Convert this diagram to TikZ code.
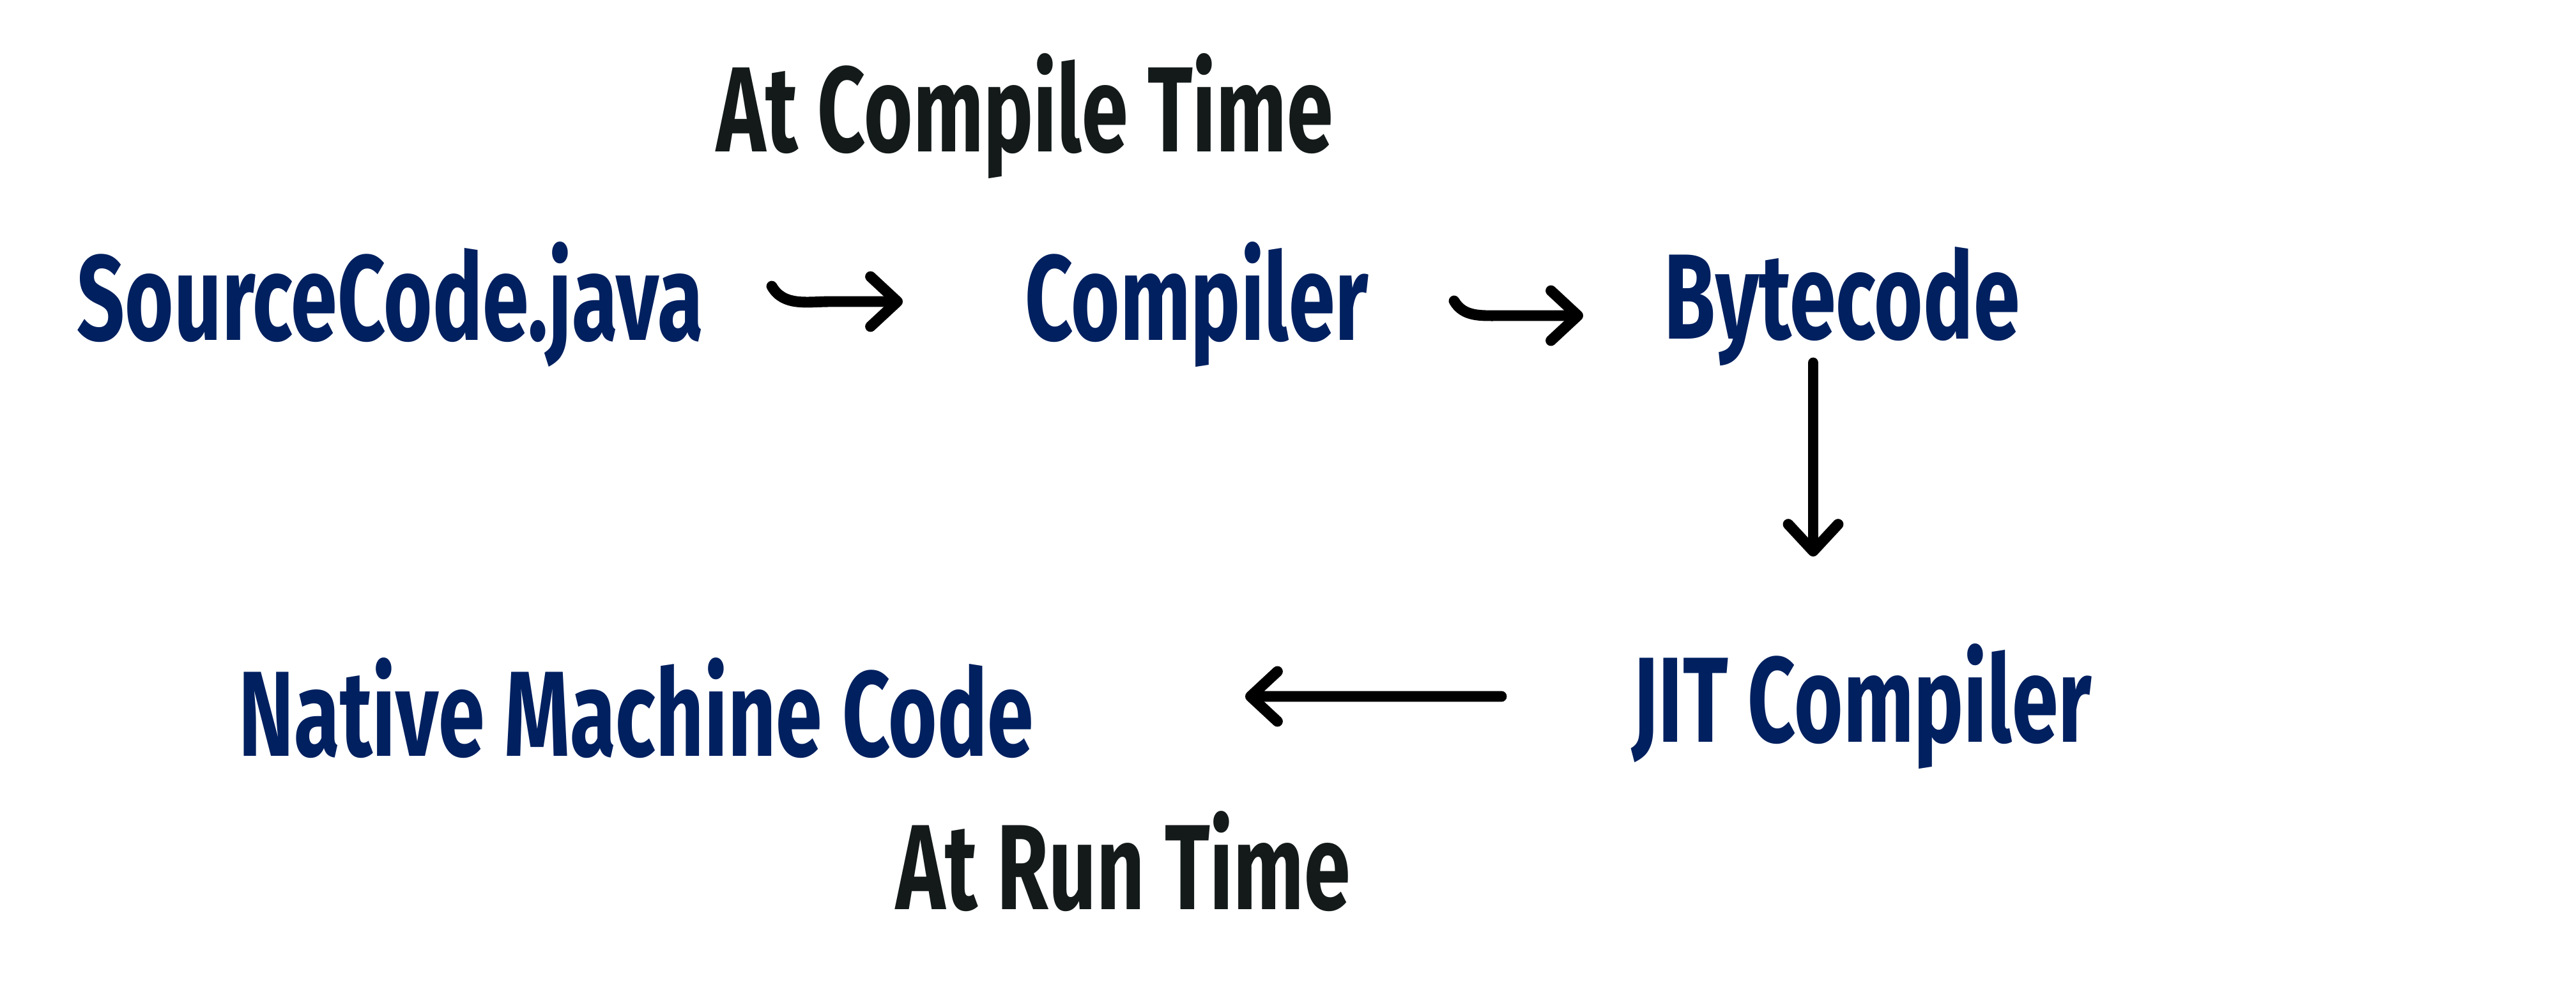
\documentclass[tikz,border=0pt]{standalone}
\usepackage{fontspec}
\usepackage{xcolor}
\usetikzlibrary{arrows.meta,positioning,calc}
\newfontfamily\diafont[FakeStretch=0.69,UprightFont=* Bold]{Fira Sans}
\definecolor{navy}{RGB}{0,32,96}
\definecolor{ink}{RGB}{20,26,26}

\begin{document}
\begin{tikzpicture}[
    lbl/.style={inner sep=0pt, anchor=base, font=\diafont\fontsize{54}{60}\selectfont, text=#1},
    lbl/.default=navy,
    arr/.style={line width=4.8pt, line cap=round, black,
        -{Straight Barb[length=0.42cm, width=0.78cm, line cap=round, line join=round]}},
]
\useasboundingbox (0,0) rectangle (40.32,-15.72);
% Compile time row
\node[lbl=ink] (ctime) at (16.04,-2.37) {At Compile Time};
\node[lbl] (src) at (6.11,-5.32) {SourceCode.java};
\node[lbl] (comp) at (18.73,-5.32) {Compiler};
\node[lbl] (byte) at (28.83,-5.30) {Bytecode};
% Run time row
\node[lbl] (jit) at (29.14,-11.61) {JIT Compiler};
\node[lbl] (native) at (9.96,-11.83) {Native Machine Code};
\node[lbl=ink] (rtime) at (17.58,-14.23) {At Run Time};
% Arrows
\draw[arr] ([shift={(5.97,0.84)}]src.base) to[out=-60,in=180] ([shift={(-5.73,0.60)}]comp.base) -- ([shift={(-4.60,0.60)}]comp.base);
\draw[arr] ([shift={(4.03,0.61)}]comp.base) to[out=-60,in=180] ([shift={(-5.36,0.36)}]byte.base) -- ([shift={(-4.05,0.36)}]byte.base);
\draw[arr] ([shift={(-0.45,-0.38)}]byte.base) -- ([shift={(-0.76,2.90)}]jit.base);
\draw[arr] ([shift={(-5.64,0.71)}]jit.base) -- ([shift={(9.53,0.93)}]native.base);
\end{tikzpicture}
\end{document}
